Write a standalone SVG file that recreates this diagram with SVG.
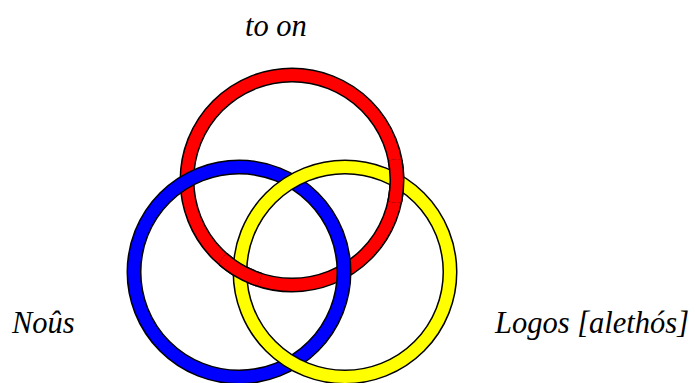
<svg xmlns="http://www.w3.org/2000/svg" width="696" height="383" viewBox="0 0 696 383">
<style>
.edge{fill:none;stroke:#000;stroke-width:15}
.band{fill:none;stroke-width:12}
.red{stroke:#ff0000}
.blue{stroke:#0000ff}
.yellow{stroke:#ffff00}
</style>
<defs>
<clipPath id="redOver">
<circle cx="240" cy="271" r="22"/>
<circle cx="397" cy="181" r="22"/>
</clipPath>
</defs>
<rect width="696" height="383" fill="#fff"/>
<g id="connectors"/>
<g id="ring-red">
<circle class="edge" cx="292" cy="180" r="105"/>
<circle class="band red" cx="292" cy="180" r="105"/>
</g>
<g id="ring-blue">
<circle class="edge" cx="239" cy="272" r="105"/>
<circle class="band blue" cx="239" cy="272" r="105"/>
</g>
<g id="ring-yellow">
<circle class="edge" cx="345" cy="272" r="105"/>
<circle class="band yellow" cx="345" cy="272" r="105"/>
</g>
<g id="ring-red-over" clip-path="url(#redOver)">
<circle class="edge" cx="292" cy="180" r="105"/>
<circle class="band red" cx="292" cy="180" r="105"/>
</g>
<g font-family="Liberation Serif, serif" font-style="italic" font-size="30.5" fill="#000">
<g id="label-toon"><text x="245" y="36">to on</text></g>
<g id="label-nous"><text x="12" y="333">Noûs</text></g>
<g id="label-logos"><text x="495" y="333">Logos [alethós]</text></g>
</g>
</svg>
